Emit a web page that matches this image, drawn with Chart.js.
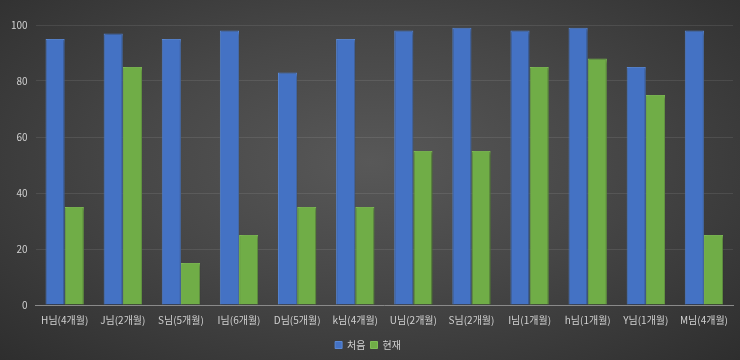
<!DOCTYPE html>
<html>
<head>
<meta charset="utf-8">
<script src="https://cdn.jsdelivr.net/npm/chart.js@4/dist/chart.umd.min.js"></script>
<style>
  html, body { margin: 0; padding: 0; }
  body {
    width: 740px; height: 360px; overflow: hidden;
    background: radial-gradient(ellipse at 50% 45%, #585858 0%, #474747 45%, #2e2e2e 100%);
  }
  #wrap { width: 740px; height: 360px; }
</style>
</head>
<body>
<div id="wrap"><canvas id="barChart"></canvas></div>
<script>
// categories and series
const categories = ["H님(4개월)", "J님(2개월)", "S님(5개월)", "I님(6개월)", "D님(5개월)", "k님(4개월)",
  "U님(2개월)", "S님(2개월)", "I님(1개월)", "h님(1개월)", "Y님(1개월)", "M님(4개월)"];
const firstValues = [95, 97, 95, 98, 83, 95, 98, 99, 98, 99, 85, 98];
const nowValues = [35, 85, 15, 25, 35, 35, 55, 55, 85, 88, 75, 25];
const yTicks = [0, 20, 40, 60, 80, 100];

const textColor = "#d0d0d0";
const fontFamily = "'Noto Sans CJK KR', 'Noto Sans', sans-serif";

// subtle drop shadow under the bars
const barShadow = {
  id: "barShadow",
  beforeDatasetsDraw(chart) {
    const c = chart.ctx;
    c.save();
    c.shadowColor = "rgba(0,0,0,0.45)";
    c.shadowBlur = 3;
    c.shadowOffsetX = 1;
    c.shadowOffsetY = 1;
  },
  afterDatasetsDraw(chart) {
    chart.ctx.restore();
  }
};

new Chart(document.getElementById("barChart"), {
  type: "bar",
  data: {
    labels: categories,
    datasets: [
      {
        label: "처음",
        data: firstValues,
        backgroundColor: "#4472C4",
        borderColor: "#5a89d6",
        borderWidth: 1,
        categoryPercentage: 0.66,
        barPercentage: 1.0
      },
      {
        label: "현재",
        data: nowValues,
        backgroundColor: "#70AD47",
        borderColor: "#7fbd55",
        borderWidth: 1,
        categoryPercentage: 0.66,
        barPercentage: 1.0
      }
    ]
  },
  options: {
    responsive: true,
    maintainAspectRatio: false,
    animation: false,
    layout: { padding: { top: 25, right: 7, left: 3, bottom: 0 } },
    scales: {
      x: {
        grid: { display: false, drawTicks: false },
        border: { color: "#8a8a8a", width: 1 },
        ticks: {
          color: textColor,
          padding: 9,
          maxRotation: 0,
          autoSkip: false,
          font: { family: fontFamily, size: 10 }
        }
      },
      y: {
        min: 0,
        max: 100,
        afterBuildTicks(axis) {
          axis.ticks = yTicks.map(v => ({ value: v }));
        },
        grid: { color: "rgba(255,255,255,0.09)", drawTicks: false },
        border: { display: false },
        ticks: {
          color: textColor,
          padding: 8,
          font: { family: fontFamily, size: 10 }
        }
      }
    },
    plugins: {
      legend: {
        position: "bottom",
        labels: {
          color: textColor,
          boxWidth: 7,
          boxHeight: 7,
          padding: 5,
          font: { family: fontFamily, size: 10 }
        }
      },
      tooltip: { enabled: false }
    }
  },
  plugins: [barShadow]
});
</script>
</body>
</html>
